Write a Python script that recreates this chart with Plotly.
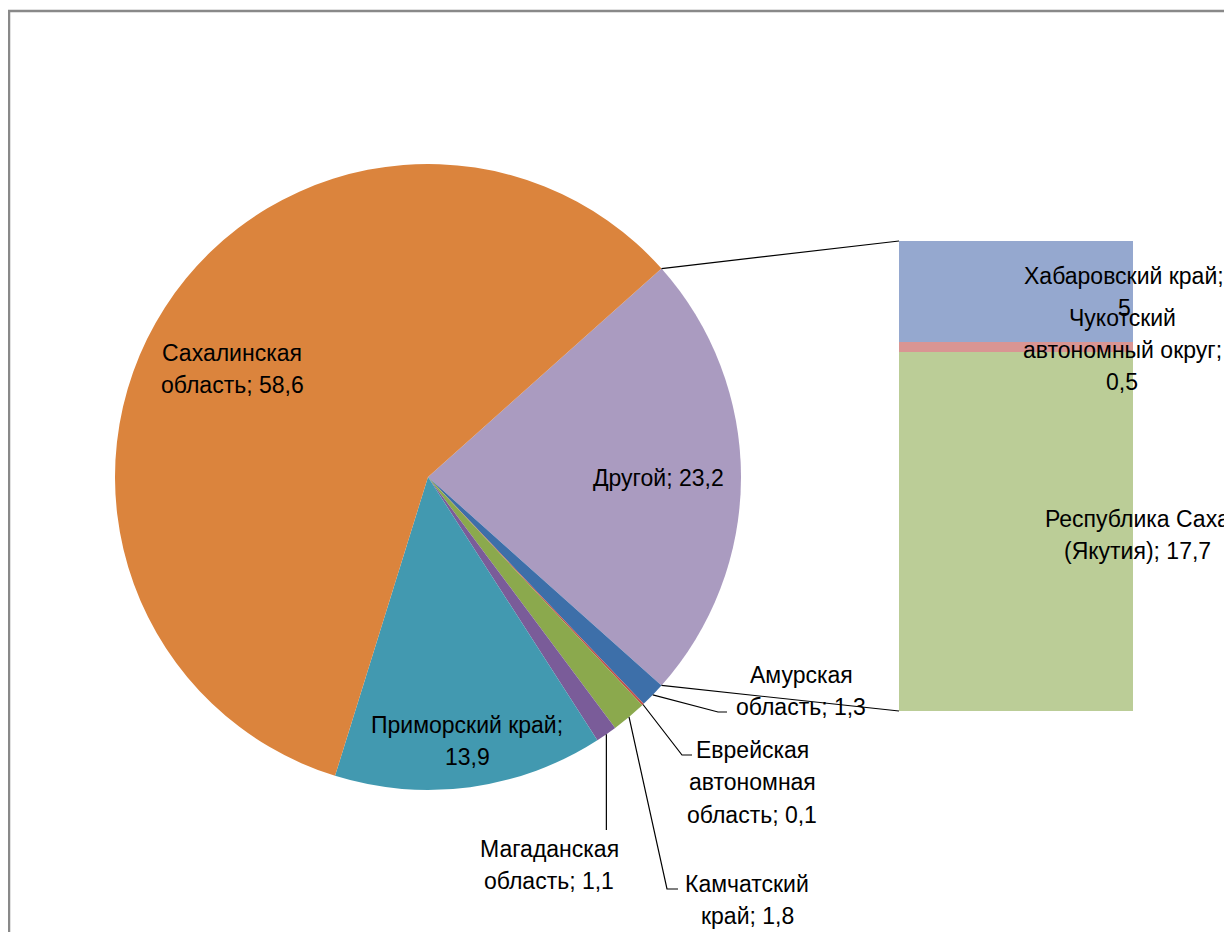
import math
import plotly.graph_objects as go

# ---- data ----
pie_labels = ["Другой", "Амурская область", "Еврейская автономная область",
              "Камчатский край", "Магаданская область", "Приморский край",
              "Сахалинская область"]
pie_values = [23.2, 1.3, 0.1, 1.8, 1.1, 13.9, 58.6]
pie_colors = ["#AA9BC0", "#3D6FA9", "#C0504D", "#8BA94D", "#7A5C99", "#4299B0", "#DB843D"]

bar_labels = ["Республика Саха (Якутия)", "Чукотский автономный округ", "Хабаровский край"]
bar_values = [17.7, 0.5, 5]
bar_colors = ["#BBCD97", "#D99593", "#95A8CF"]

pie_text = ["Другой; 23,2", "Амурская<br>область; 1,3", "Еврейская<br>автономная<br>область; 0,1",
            "Камчатский<br>край; 1,8", "Магаданская<br>область; 1,1", "Приморский край;<br>13,9",
            "Сахалинская<br>область; 58,6"]
bar_text = ["Республика Саха<br>(Якутия); 17,7", "Чукотский<br>автономный округ;<br>0,5",
            "Хабаровский край;<br>5"]

# ---- layout geometry (pixels in the final page) ----
W, H = 1232, 932
OFF = 8  # page body margin
CX, CY, R = 428, 477, 313
BX0, BX1, BY0, BY1 = 899, 1133, 241, 711
LINE_H = 32.5
FONT = dict(family="Liberation Sans, Arial, sans-serif", size=23, color="#000000")

def px(x):
    return (x - OFF) / W

def py(y):
    return 1 - (y - OFF) / H

total = sum(pie_values)
rotation = 90 - pie_values[0] / total * 360 / 2

edges = [rotation]
for v in pie_values:
    edges.append(edges[-1] + v / total * 360)

def pie_point(angle_deg, r=R):
    a = math.radians(angle_deg)
    return CX + r * math.sin(a), CY - r * math.cos(a)

fig = go.Figure()
fig.add_trace(go.Pie(
    labels=pie_labels, values=pie_values, sort=False, direction="clockwise",
    rotation=rotation, marker=dict(colors=pie_colors, line=dict(width=0)),
    textinfo="none", hoverinfo="label+value",
    domain=dict(x=[px(CX - R), px(CX + R)], y=[py(CY + R), py(CY - R)]),
    showlegend=False,
))

for lab, val, col in zip(bar_labels, bar_values, bar_colors):
    fig.add_trace(go.Bar(x=[0], y=[val], name=lab, marker=dict(color=col, line=dict(width=0)),
                         width=1, showlegend=False, xaxis="x", yaxis="y"))

shapes = []
shapes.append(dict(type="rect", xref="paper", yref="paper", x0=px(9), x1=px(W + 30),
                   y0=py(H + 30), y1=py(11), line=dict(color="#898989", width=2.5)))
p_top = pie_point(edges[0])
p_bot = pie_point(edges[1])
for (x0, y0), (x1, y1) in [(p_top, (BX0, BY0)), (p_bot, (BX0, BY1))]:
    shapes.append(dict(type="line", xref="paper", yref="paper", x0=px(x0), y0=py(y0),
                       x1=px(x1), y1=py(y1), line=dict(color="#000000", width=1.2)))

leaders = [(1, (718, 712), (727, 712)),
           (2, (682, 755), (692, 755)),
           (3, (667, 889), (678, 889)),
           (4, None, (None, 830))]
for idx, elbow, end in leaders:
    mid = (edges[idx] + edges[idx + 1]) / 2
    sx, sy = pie_point(mid)
    if elbow is None:
        pts = [(sx, sy), (sx, end[1])]
    else:
        pts = [(sx, sy), elbow, end]
    path = "M " + " L ".join(f"{px(a):.5f},{py(b):.5f}" for a, b in pts)
    shapes.append(dict(type="path", xref="paper", yref="paper", path=path,
                       line=dict(color="#000000", width=1.2)))

pie_label_pos = [(658, 478), (801, 691), (752, 782), (747, 900), (549, 865), (467, 741), (232, 369)]
bar_label_pos = [(1137, 535), (1122, 350), (1124, 292)]

annotations = []
for t, (x, y) in zip(pie_text + bar_text, pie_label_pos + bar_label_pos):
    lines = t.split("<br>")
    n = len(lines)
    for i, ln in enumerate(lines):
        ly = y + (i - (n - 1) / 2) * LINE_H
        annotations.append(dict(text=ln, x=px(x), y=py(ly), xref="paper", yref="paper",
                                showarrow=False, xanchor="center", yanchor="middle",
                                align="center", font=FONT))

fig.update_layout(
    width=W, height=H, margin=dict(l=0, r=0, t=0, b=0),
    paper_bgcolor="white", plot_bgcolor="rgba(0,0,0,0)",
    barmode="stack", bargap=0,
    xaxis=dict(domain=[px(BX0), px(BX1)], range=[-0.5, 0.5], visible=False, fixedrange=True),
    yaxis=dict(domain=[py(BY1), py(BY0)], range=[0, sum(bar_values)], visible=False, fixedrange=True),
    shapes=shapes, annotations=annotations,
)

fig.write_html("out.html")
